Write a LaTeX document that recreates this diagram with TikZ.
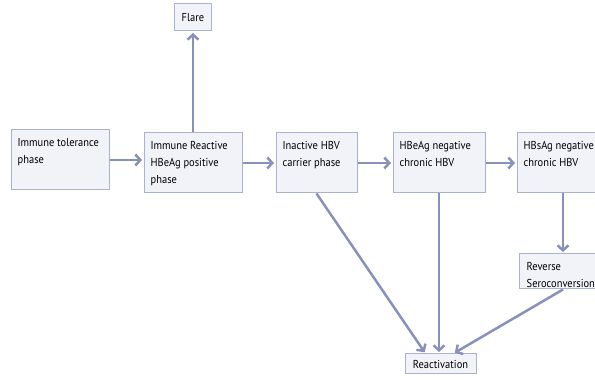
\documentclass[tikz,border=0pt]{standalone}
\usepackage{fontspec}
\setmainfont{PT Sans}[FakeStretch = 0.91]
\usetikzlibrary{positioning}
\usetikzlibrary{arrows.meta}

\definecolor{boxline}{HTML}{A9B3D1}
\definecolor{boxfill}{HTML}{F1F3F9}
\definecolor{arrowcol}{HTML}{8791BC}

\begin{document}
\begin{tikzpicture}[x = 1pt, y = 1pt,
        font = \fontsize{11.5}{17}\selectfont,
        phase/.style = {rectangle, draw = boxline, fill = boxfill, line width = 1pt,
                        minimum height = 60pt, inner sep = 0pt},
        txt/.style = {anchor = north west, align = left, inner xsep = 7pt, inner ysep = 9pt},
        small/.style = {rectangle, draw = boxline, fill = boxfill, line width = 1pt, inner sep = 0pt},
        link/.style = {draw = arrowcol, line width = 2.5pt,
                       -{Straight Barb[length = 5pt, width = 11pt]}, shorten >=1.5pt}]
    \useasboundingbox (0,0) rectangle (595,380);
    \clip (0,0) rectangle (595,380);

    %\draw[help lines, opacity = 0.1] (0,0) grid (595,380);

    % main row of phases
    \node (tol) at (60,220) [phase, minimum width = 98pt,
        label = {[txt]north west:Immune tolerance\\phase}] {};
    \node (rea) [phase, minimum width = 98pt, right = 34pt of tol, yshift = -3pt,
        label = {[txt]north west:Immune Reactive\\HBeAg positive\\phase}] {};
    \node (inact) [phase, minimum width = 81pt, right = 33pt of rea,
        label = {[txt]north west:Inactive HBV\\carrier phase}] {};
    \node (neg) [phase, minimum width = 92pt, right = 35pt of inact,
        label = {[txt]north west:HBeAg negative\\chronic HBV}] {};
    \node (hbs) [phase, minimum width = 92pt, right = 31pt of neg,
        label = {[txt]north west:HBsAg negative\\chronic HBV}] {};

    % side outcomes
    \node (flare) [small, minimum width = 37pt, minimum height = 27pt, above = 101pt of rea] {Flare};
    \node (rev) [phase, minimum width = 88pt, minimum height = 35pt, below = 60pt of hbs,
        label = {[txt, inner xsep = 8pt]north west:Reverse\\Seroconversion}] {};
    \node (react) [small, minimum width = 71pt, minimum height = 20pt, below = 160pt of neg,
        xshift = 1.5pt] {Reactivation};

    \draw[link] (tol.east) -- (tol.east -| rea.west);
    \draw[link] (rea) -- (inact);
    \draw[link] (inact) -- (neg);
    \draw[link] (neg) -- (hbs);
    \draw[link] (rea.north) -- (rea.north |- flare.south);
    \draw[link] (hbs) -- (rev);

    \draw[link] (inact.south) -- (react.145);
    \draw[link] (neg.south) -- (neg.south |- react.north);
    \draw[link] (rev.south) -- (react.39);

\end{tikzpicture}
\end{document}
